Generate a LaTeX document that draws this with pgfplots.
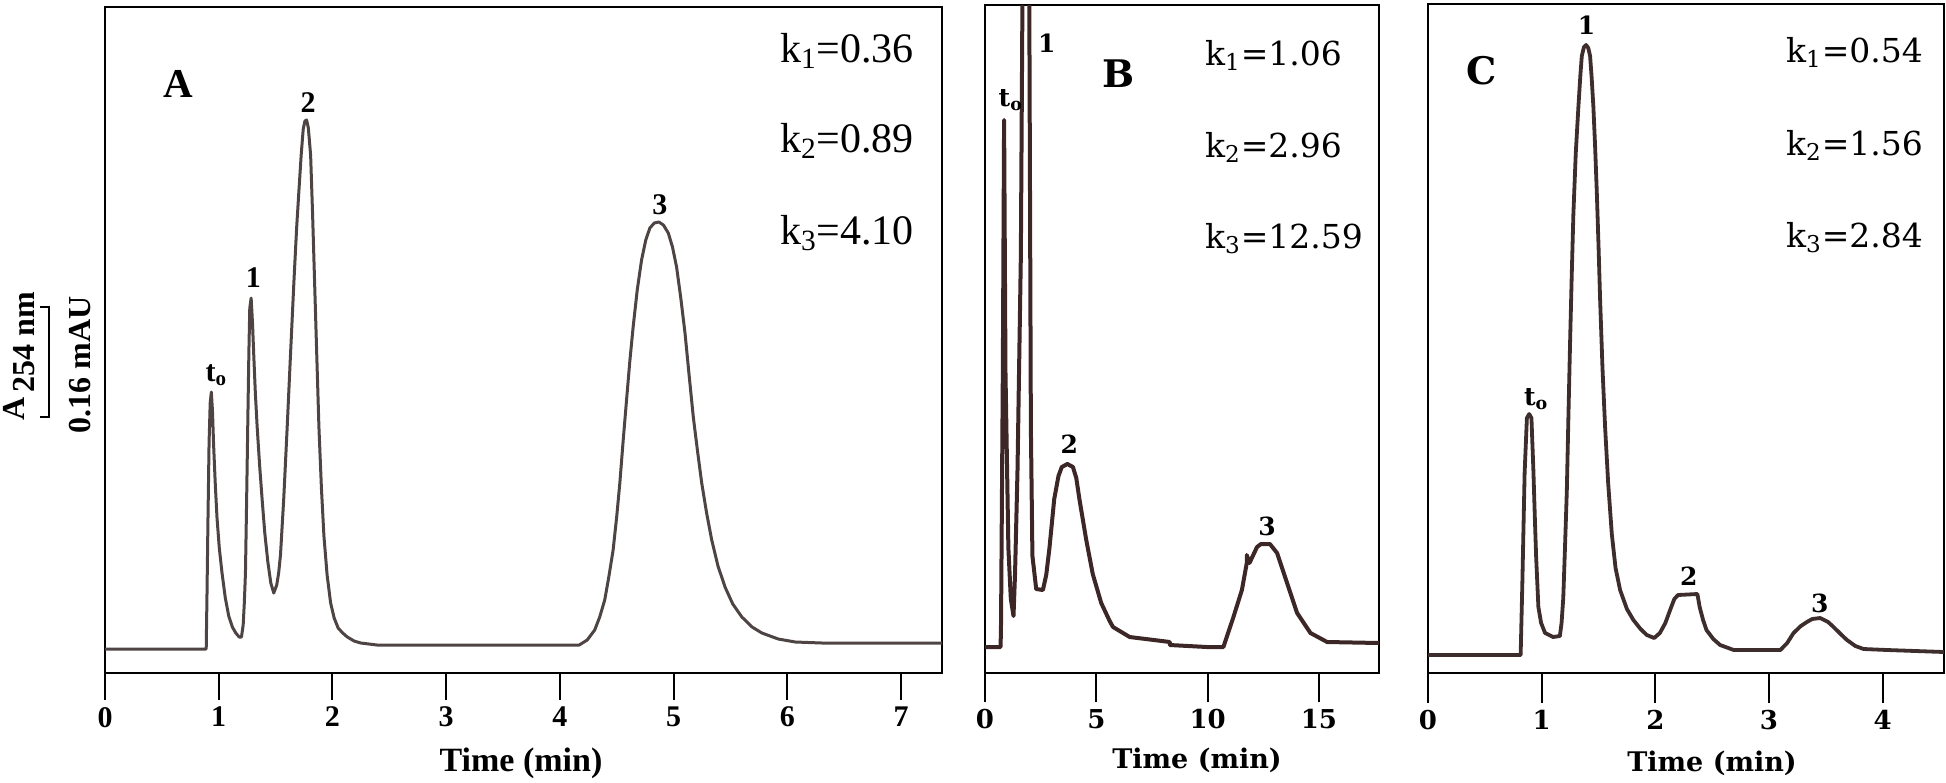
\documentclass[border=0pt]{standalone}
\usepackage{pgfplots}
\pgfplotsset{compat=1.18}
\usepackage{fontspec}
\setmainfont{Liberation Serif}
\newfontfamily\dvs{DejaVu Serif}
\definecolor{cA}{RGB}{78,68,68}
\definecolor{cB}{RGB}{60,38,38}
\definecolor{cC}{RGB}{62,45,45}
\pgfplotsset{chrom/.style={scale only axis, anchor=south west, ymin=0, ytick=\empty,
  axis line style={line width=1.3pt, black}, tick align=outside, xtick pos=left,
  major tick length=13.5pt, every tick/.style={line width=1pt, black}, clip=true}}
\begin{document}
\begin{tikzpicture}
\useasboundingbox (0,0) rectangle (973pt,-391pt);
% ---------- Panel A ----------
\begin{axis}[chrom, at={(52.5pt,-336.5pt)}, width=418.5pt, height=333pt,
  xmin=0, xmax=7.36, ymax=666, xtick={0,1,2,3,4,5,6,7}, xticklabels={0,1,2,3,4,5,6,7},
  ticklabel style={font=\fontsize{15}{17}\selectfont\bfseries}]
\addplot[cA, line width=1.5pt, line join=round] coordinates {
(0,24) (0.89,24) (0.897,80) (0.905,150) (0.915,230) (0.925,270) (0.935,281) (0.945,262) (0.955,228)
(0.97,188) (0.985,155) (1.005,125) (1.029,100) (1.058,75) (1.088,57) (1.12,46) (1.15,40) (1.18,36)
(1.20,36) (1.215,48) (1.225,70) (1.235,100) (1.245,170) (1.255,246) (1.265,320) (1.273,365) (1.285,375)
(1.297,350) (1.308,318) (1.322,280) (1.338,246) (1.36,207) (1.382,173) (1.405,140) (1.432,111) (1.458,90)
(1.484,80) (1.51,88) (1.527,100) (1.543,118) (1.572,175) (1.602,246) (1.631,318) (1.661,391) (1.685,445)
(1.705,482) (1.725,518) (1.743,544) (1.758,552) (1.773,553) (1.788,545) (1.808,518) (1.825,460) (1.843,391)
(1.862,318) (1.881,246) (1.903,185) (1.925,137) (1.953,98) (1.984,70) (2.015,55) (2.05,45) (2.09,40)
(2.131,36) (2.19,32) (2.249,30) (2.39,28) (4.17,28) (4.24,33) (4.306,43) (4.35,56) (4.394,73) (4.43,96)
(4.468,123) (4.50,157) (4.527,190) (4.556,232) (4.586,273) (4.615,312) (4.644,346) (4.68,383) (4.718,413)
(4.755,433) (4.791,445) (4.83,450) (4.870,451) (4.91,448) (4.953,440) (4.99,426) (5.026,406) (5.063,375)
(5.100,340) (5.136,298) (5.173,256) (5.21,222) (5.247,190) (5.29,160) (5.335,133) (5.39,107) (5.452,86)
(5.52,69) (5.600,56) (5.69,46) (5.776,40) (5.92,34) (6.07,31) (6.305,30) (7.36,30)};
\node[font=\fontsize{15}{17}\selectfont\bfseries] at (axis cs:0.98,298) {t\textsubscript{o}};
\node[font=\fontsize{15}{17}\selectfont\bfseries] at (axis cs:1.305,395) {1};
\node[font=\fontsize{15}{17}\selectfont\bfseries] at (axis cs:1.785,570) {2};
\node[font=\fontsize{15}{17}\selectfont\bfseries] at (axis cs:4.88,468) {3};
\end{axis}
% ---------- Panel B ----------
\begin{axis}[chrom, at={(492.5pt,-336.5pt)}, width=197pt, height=334pt,
  xmin=0, xmax=17.7, ymax=668, xtick={0,5,10,15}, xticklabels={0,5,10,15},
  major tick length=14.5pt,
  ticklabel style={font=\dvs\fontsize{13}{15}\selectfont\bfseries}]
\addplot[cB, line width=2pt, line join=round] coordinates {
(0,26) (0.70,26) (0.72,50) (0.80,300) (0.857,553) (0.92,300) (1.05,125) (1.16,74) (1.28,57)
(1.35,100) (1.46,203) (1.61,417) (1.68,668) (1.84,950) (1.99,668) (2.06,246) (2.13,117)
(2.3,84) (2.6,83) (2.75,98) (2.89,124) (3.11,174) (3.3,197) (3.45,206) (3.7,209) (3.95,206) (4.1,195)
(4.24,174) (4.54,134) (4.84,99) (5.22,70) (5.6,52) (5.75,46) (6.05,42) (6.5,36) (8.3,31) (8.3,28)
(9.96,26) (10.71,26) (11.16,56) (11.54,83) (11.76,110) (11.76,118) (11.88,110) (12.22,126) (12.4,129)
(12.8,129) (13.12,120) (13.57,90) (14.02,60) (14.62,40) (15.37,31) (17.7,30)};
\node[font=\dvs\fontsize{12.5}{14}\selectfont\bfseries] at (axis cs:1.16,573) {t\textsubscript{o}};
\node[font=\dvs\fontsize{12.5}{14}\selectfont\bfseries] at (axis cs:2.78,630) {1};
\node[font=\dvs\fontsize{12.5}{14}\selectfont\bfseries] at (axis cs:3.79,229) {2};
\node[font=\dvs\fontsize{12.5}{14}\selectfont\bfseries] at (axis cs:12.67,147) {3};
\end{axis}
% ---------- Panel C ----------
\begin{axis}[chrom, at={(714pt,-336.5pt)}, width=258pt, height=334.5pt,
  xmin=0, xmax=4.54, ymax=669, xtick={0,1,2,3,4}, xticklabels={0,1,2,3,4},
  major tick length=15pt,
  ticklabel style={font=\dvs\fontsize{13}{15}\selectfont\bfseries}]
\addplot[cC, line width=1.9pt, line join=round] coordinates {
(0,18) (0.815,18) (0.83,90) (0.85,200) (0.87,255) (0.89,259) (0.91,255) (0.927,203) (0.94,155)
(0.951,117) (0.971,66) (0.995,50) (1.03,40) (1.10,36) (1.16,37) (1.175,50) (1.19,75) (1.205,125)
(1.221,181) (1.235,255) (1.25,331) (1.265,400) (1.279,459) (1.30,520) (1.323,566) (1.34,597) (1.353,617)
(1.372,626) (1.391,628) (1.41,625) (1.426,617) (1.44,595) (1.455,566) (1.47,527) (1.485,481) (1.50,428)
(1.514,374) (1.535,305) (1.558,246) (1.585,190) (1.617,139) (1.65,105) (1.69,83) (1.75,64) (1.807,53)
(1.87,44) (1.925,38) (1.99,35) (2.04,40) (2.088,50) (2.13,63) (2.167,74) (2.2,78) (2.37,79) (2.39,66)
(2.42,53) (2.45,43) (2.51,34) (2.57,28) (2.69,23) (3.1,23) (3.16,30) (3.216,40) (3.28,47) (3.333,51)
(3.38,54) (3.45,55) (3.52,51) (3.568,46) (3.63,39) (3.686,33) (3.76,27) (3.832,24) (4.04,23) (4.54,21)};
\node[font=\dvs\fontsize{12.5}{14}\selectfont\bfseries] at (axis cs:0.951,274) {t\textsubscript{o}};
\node[font=\dvs\fontsize{12.5}{14}\selectfont\bfseries] at (axis cs:1.395,648) {1};
\node[font=\dvs\fontsize{12.5}{14}\selectfont\bfseries] at (axis cs:2.295,97) {2};
\node[font=\dvs\fontsize{12.5}{14}\selectfont\bfseries] at (axis cs:3.448,70) {3};
\end{axis}
% ---------- texts in pixel units ----------
\begin{scope}[x=0.5pt,y=-0.5pt]
\node[font=\fontsize{20.5}{24}\selectfont\bfseries] at (178,84) {A};
\node[anchor=base west, font=\fontsize{21}{24}\selectfont] at (773,62) {k\textsubscript{1}=0.36};
\node[anchor=base west, font=\fontsize{21}{24}\selectfont] at (773,152) {k\textsubscript{2}=0.89};
\node[anchor=base west, font=\fontsize{21}{24}\selectfont] at (773,244) {k\textsubscript{3}=4.10};
\node[font=\fontsize{17}{19}\selectfont\bfseries] at (521,763) {Time (min)};
\node[rotate=90, font=\fontsize{16}{18}\selectfont\bfseries] at (19,356) {A\,\raisebox{-0.3em}{254 nm}};
\draw[line width=0.6pt] (49,307) -- (49,417);
\draw[line width=0.6pt] (40,307) -- (50,307);
\draw[line width=0.6pt] (40,417) -- (50,417);
\node[rotate=90, font=\fontsize{16}{18}\selectfont\bfseries] at (80,365) {0.16 mAU};
\node[font=\dvs\fontsize{19}{22}\selectfont\bfseries] at (1119,74) {B};
\node[anchor=base west, font=\dvs\fontsize{16.5}{19}\selectfont] at (1198,65) {k\textsubscript{1}=1.06};
\node[anchor=base west, font=\dvs\fontsize{16.5}{19}\selectfont] at (1198,157) {k\textsubscript{2}=2.96};
\node[anchor=base west, font=\dvs\fontsize{16.5}{19}\selectfont] at (1198,248) {k\textsubscript{3}=12.59};
\node[font=\dvs\fontsize{13.5}{15}\selectfont\bfseries] at (1197,760) {Time (min)};
\node[font=\dvs\fontsize{19}{22}\selectfont\bfseries] at (1482,71) {C};
\node[anchor=base west, font=\dvs\fontsize{16.5}{19}\selectfont] at (1779,62) {k\textsubscript{1}=0.54};
\node[anchor=base west, font=\dvs\fontsize{16.5}{19}\selectfont] at (1779,155) {k\textsubscript{2}=1.56};
\node[anchor=base west, font=\dvs\fontsize{16.5}{19}\selectfont] at (1779,247) {k\textsubscript{3}=2.84};
\node[font=\dvs\fontsize{13.5}{15}\selectfont\bfseries] at (1712,763) {Time (min)};
\end{scope}
\end{tikzpicture}
\end{document}
